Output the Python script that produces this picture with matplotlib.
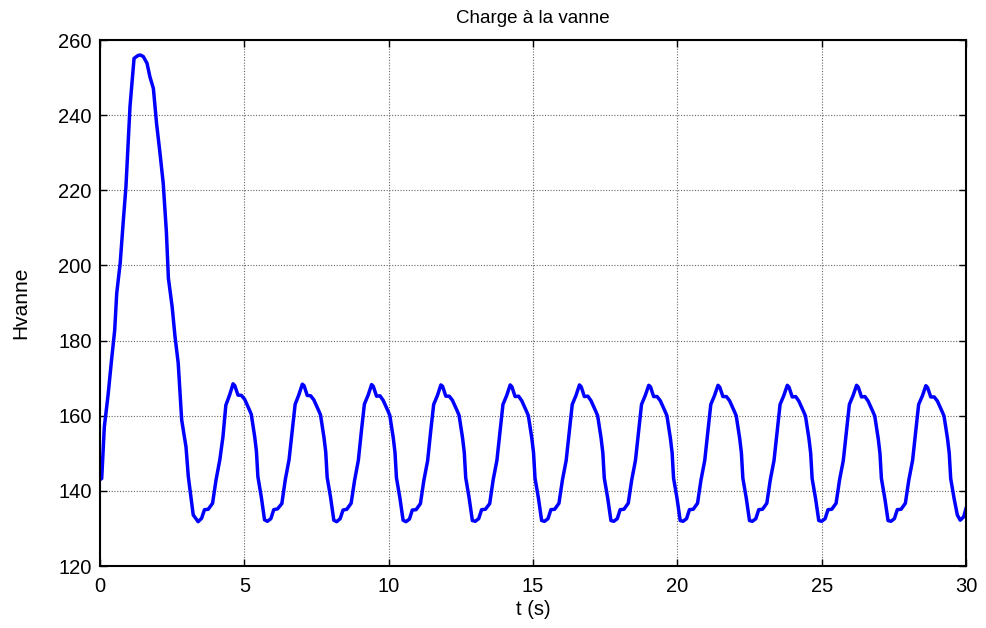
import matplotlib
matplotlib.use("Agg")
import matplotlib.pyplot as plt

plt.rcParams['font.family'] = ['Liberation Sans', 'DejaVu Sans']

# initial pressure surge (t in s, head in m)
t_pulse = [0.00, 0.06, 0.15, 0.28, 0.40, 0.51, 0.58, 0.70, 0.81, 0.90, 1.04,
           1.18, 1.32, 1.40, 1.50, 1.63, 1.73, 1.85, 1.96, 2.08, 2.19, 2.30,
           2.37, 2.50, 2.60, 2.71, 2.83, 2.98, 3.06, 3.23]
h_pulse = [143.0, 143.3, 157.0, 165.5, 174.8, 182.8, 192.6, 200.6, 212.1, 221.0, 242.3,
           255.1, 255.9, 256.0, 255.6, 253.8, 250.2, 247.1, 237.8, 229.8, 221.9, 209.0,
           196.6, 189.0, 181.0, 174.0, 158.9, 151.7, 143.8, 133.6]

# following oscillations
t_osc = [3.40, 3.52, 3.62, 3.75, 3.90, 4.02, 4.15, 4.26, 4.36, 4.49, 4.61, 4.67, 4.78, 4.90, 5.01, 5.18, 5.24, 5.36, 5.42, 5.47, 5.59, 5.70,
         5.80, 5.92, 6.02, 6.15, 6.30, 6.42, 6.55, 6.66, 6.76, 6.89, 7.01, 7.07, 7.18, 7.30, 7.41, 7.58, 7.64, 7.76, 7.82, 7.87, 7.99, 8.10,
         8.20, 8.32, 8.42, 8.55, 8.70, 8.82, 8.95, 9.06, 9.16, 9.29, 9.41, 9.47, 9.58, 9.70, 9.81, 9.98, 10.04, 10.16, 10.22, 10.27, 10.39, 10.50,
         10.60, 10.72, 10.82, 10.95, 11.10, 11.22, 11.35, 11.46, 11.56, 11.69, 11.81, 11.87, 11.98, 12.10, 12.21, 12.38, 12.44, 12.56, 12.62, 12.67, 12.79, 12.90,
         13.00, 13.12, 13.22, 13.35, 13.50, 13.62, 13.75, 13.86, 13.96, 14.09, 14.21, 14.27, 14.38, 14.50, 14.61, 14.78, 14.84, 14.96, 15.02, 15.07, 15.19, 15.30,
         15.40, 15.52, 15.62, 15.75, 15.90, 16.02, 16.15, 16.26, 16.36, 16.49, 16.61, 16.67, 16.78, 16.90, 17.01, 17.18, 17.24, 17.36, 17.42, 17.47, 17.59, 17.70,
         17.80, 17.92, 18.02, 18.15, 18.30, 18.42, 18.55, 18.66, 18.76, 18.89, 19.01, 19.07, 19.18, 19.30, 19.41, 19.58, 19.64, 19.76, 19.82, 19.87, 19.99, 20.10,
         20.20, 20.32, 20.42, 20.55, 20.70, 20.82, 20.95, 21.06, 21.16, 21.29, 21.41, 21.47, 21.58, 21.70, 21.81, 21.98, 22.04, 22.16, 22.22, 22.27, 22.39, 22.50,
         22.60, 22.72, 22.82, 22.95, 23.10, 23.22, 23.35, 23.46, 23.56, 23.69, 23.81, 23.87, 23.98, 24.10, 24.21, 24.38, 24.44, 24.56, 24.62, 24.67, 24.79, 24.90,
         25.00, 25.12, 25.22, 25.35, 25.50, 25.62, 25.75, 25.86, 25.96, 26.09, 26.21, 26.27, 26.38, 26.50, 26.61, 26.78, 26.84, 26.96, 27.02, 27.07, 27.19, 27.30,
         27.40, 27.52, 27.62, 27.75, 27.90, 28.02, 28.15, 28.26, 28.36, 28.49, 28.61, 28.67, 28.78, 28.90, 29.01, 29.18, 29.24, 29.36, 29.42, 29.47, 29.59, 29.70,
         29.80, 29.92, 30.00]
h_osc = [131.8, 132.7, 135.0, 135.1, 136.7, 142.9, 148.2, 154.4, 162.8, 165.5, 168.5, 168.0, 165.5, 165.4, 164.4, 161.5, 160.4, 154.4, 150.5, 143.8, 138.3, 132.3,
         131.9, 132.6, 135.0, 135.2, 136.6, 143.0, 148.3, 156.0, 163.0, 165.6, 168.4, 168.0, 165.4, 165.3, 164.2, 161.3, 160.2, 154.2, 150.4, 143.6, 138.2, 132.2,
         131.8, 132.6, 134.9, 135.1, 136.7, 142.8, 148.1, 156.2, 163.1, 165.5, 168.3, 167.8, 165.2, 165.3, 164.1, 161.2, 160.1, 154.1, 150.2, 143.5, 138.1, 132.2,
         131.8, 132.5, 134.9, 135.0, 136.6, 142.8, 148.0, 156.1, 163.0, 165.4, 168.2, 167.8, 165.2, 165.2, 164.1, 161.2, 160.1, 154.1, 150.2, 143.5, 138.0, 132.1,
         131.9, 132.6, 135.0, 135.1, 136.6, 142.9, 148.1, 156.0, 163.0, 165.4, 168.2, 167.7, 165.1, 165.2, 164.0, 161.1, 160.0, 154.0, 150.1, 143.4, 138.0, 132.1,
         131.9, 132.6, 135.0, 135.1, 136.7, 142.9, 148.1, 156.0, 163.0, 165.4, 168.2, 167.7, 165.1, 165.2, 164.0, 161.1, 160.0, 154.0, 150.1, 143.4, 138.0, 132.1,
         131.9, 132.6, 135.0, 135.1, 136.7, 142.9, 148.1, 156.0, 163.0, 165.4, 168.1, 167.7, 165.1, 165.1, 164.0, 161.1, 160.0, 154.0, 150.1, 143.4, 138.0, 132.1,
         131.9, 132.6, 135.0, 135.1, 136.7, 142.9, 148.1, 156.0, 163.0, 165.4, 168.1, 167.6, 165.1, 165.1, 164.0, 161.1, 160.0, 154.0, 150.1, 143.4, 138.0, 132.1,
         131.9, 132.6, 135.0, 135.1, 136.7, 142.9, 148.1, 156.0, 163.0, 165.4, 168.1, 167.6, 165.0, 165.1, 163.9, 161.0, 159.9, 153.9, 150.0, 143.3, 137.9, 132.1,
         131.9, 132.6, 135.0, 135.1, 136.7, 142.9, 148.1, 156.0, 163.0, 165.4, 168.1, 167.6, 165.0, 165.1, 163.9, 161.0, 159.9, 153.9, 150.0, 143.3, 137.9, 132.1,
         131.9, 132.6, 135.0, 135.1, 136.7, 142.9, 148.1, 156.0, 163.0, 165.3, 168.0, 167.5, 165.0, 165.0, 163.9, 161.0, 159.9, 153.9, 150.0, 143.3, 137.9, 133.6,
         132.2, 133.1, 135.3]

x_ticks = [0, 5, 10, 15, 20, 25, 30]
y_ticks = [120, 140, 160, 180, 200, 220, 240, 260]

fig = plt.figure(figsize=(9.86, 6.28), dpi=100)
ax = fig.add_axes([0.1014, 0.0987, 0.8783, 0.8376])

ax.plot(t_pulse + t_osc, h_pulse + h_osc, color=(0, 0, 1), lw=2.5)

ax.set_xlim(0, 30)
ax.set_ylim(120, 260)
ax.set_xticks(x_ticks)
ax.set_yticks(y_ticks)
ax.tick_params(direction='in', top=True, right=True, labelsize=14.5, length=5, width=1)
ax.tick_params(axis='x', pad=8)
ax.tick_params(axis='y', pad=6)
ax.grid(True, color='#666666', linestyle=(0, (1, 1.5)), linewidth=0.8)
for s in ax.spines.values():
    s.set_linewidth(1.5)

ax.set_title('Charge à la vanne', fontsize=13.5, pad=12)
ax.set_xlabel('t (s)', fontsize=14.5, labelpad=3)
ax.set_ylabel('Hvanne', fontsize=15, labelpad=20)

fig.savefig('out.png', dpi=100)
